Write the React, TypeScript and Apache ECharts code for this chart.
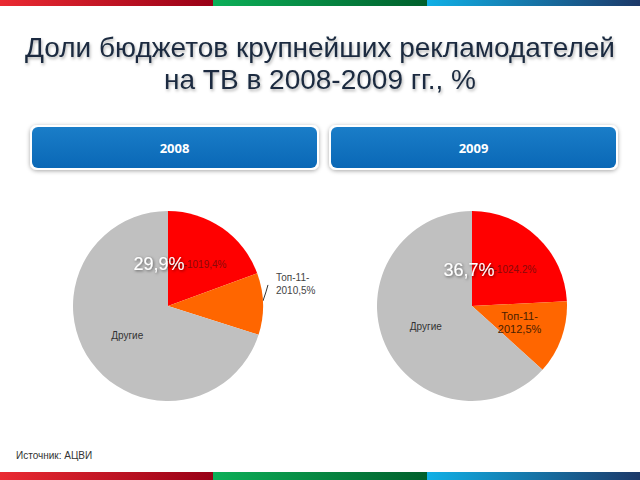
import React, { useEffect, useRef } from "react";
import * as echarts from "echarts";

const years = ["2008", "2009"];
const sliceNames = ["Топ-10", "Топ-11-20", "Другие"];
const top10 = [19.4, 24.2];
const top11to20 = [10.5, 12.5];
const others = [70.1, 63.3];
const top10Labels = ["Топ-1019,4%", "Топ-1024.2%"];
const top11Labels = ["Топ-11-\n2010,5%", "Топ-11-\n2012,5%"];
const totalLabels = ["29,9%", "36,7%"];

const titleLines = ["Доли бюджетов крупнейших рекламодателей", "на ТВ в 2008-2009 гг., %"];
const sourceText = "Источник: АЦВИ";

const sliceColors = ["#ff0000", "#ff6600", "#c0c0c0"];

export default function App() {
  const ref = useRef<HTMLDivElement>(null);
  useEffect(() => {
    if (!ref.current) return;
    const chart = echarts.init(ref.current, null, { renderer: "svg" });
    const centersX = [168, 472];
    const cy = 306;
    const series: any[] = years.map((y, i) => ({
      type: "pie",
      name: y,
      center: [centersX[i], cy],
      radius: [0, 95],
      startAngle: 90,
      clockwise: true,
      silent: true,
      label: { show: true, position: "inside", fontFamily: "Liberation Sans", fontSize: 10 },
      labelLine: { show: false },
      emphasis: { disabled: true },
      labelLayout:
        i === 0
          ? (p: any) => {
              if (p.dataIndex !== 1 || !p.labelLinePoints) return {};
              const s = p.labelLinePoints[0];
              return {
                dy: -20,
                labelLinePoints: [
                  [s[0], s[1] - 3],
                  [s[0] + 3, s[1] - 12],
                  [s[0] + 5, s[1] - 19],
                ],
              };
            }
          : undefined,
      data: [
        {
          name: sliceNames[0],
          value: top10[i],
          itemStyle: { color: sliceColors[0] },
          label: { formatter: top10Labels[i], color: "#8a0a0a" },
        },
        {
          name: sliceNames[1],
          value: top11to20[i],
          itemStyle: { color: sliceColors[1] },
          label:
            i === 0
              ? { position: "outside", formatter: top11Labels[i], color: "#444", align: "center", lineHeight: 13 }
              : { formatter: top11Labels[i], color: "#4a1e00", fontSize: 11, lineHeight: 13, align: "center" },
          labelLine: i === 0 ? { show: true, length: 4, length2: 4, lineStyle: { color: "#333", width: 1 } } : { show: false },
        },
        {
          name: sliceNames[2],
          value: others[i],
          itemStyle: { color: sliceColors[2] },
          label: { formatter: sliceNames[2], color: "#333" },
        },
      ],
    }));

    const barSeg = (x: number, y: number, w: number, h: number, c1: string, c2: string) => ({
      type: "rect",
      shape: { x, y, width: w, height: h },
      style: { fill: new echarts.graphic.LinearGradient(0, 0, 1, 0, [{ offset: 0, color: c1 }, { offset: 1, color: c2 }]) },
    });

    const box = (x: number, label: string) => ({
      type: "group",
      children: [
        {
          type: "rect",
          shape: { x, y: 125, width: 289, height: 45, r: 7 },
          style: { fill: "#ffffff", shadowBlur: 4, shadowColor: "rgba(0,0,0,0.35)", shadowOffsetY: 1 },
        },
        {
          type: "rect",
          shape: { x: x + 2, y: 127, width: 285, height: 41, r: 6 },
          style: {
            fill: new echarts.graphic.LinearGradient(0, 0, 0, 1, [
              { offset: 0, color: "#1a7dc8" },
              { offset: 1, color: "#0a68b6" },
            ]),
          },
        },
        {
          type: "text",
          x: x + 144.5,
          y: 148,
          style: {
            text: label,
            fill: "#ffffff",
            font: "bold 13px 'Open Sans'",
            align: "center",
            verticalAlign: "middle",
          },
        },
      ],
    });

    const totalsX = [159, 469];
    const totalsY = [264, 270];

    const titleStyle = {
      font: "28px 'Liberation Sans'",
      fill: "#1b2b3f",
      align: "center",
      verticalAlign: "middle",
      textShadowColor: "rgba(0,0,0,0.3)",
      textShadowBlur: 3,
      textShadowOffsetX: 1,
      textShadowOffsetY: 2,
    };

    chart.setOption({
      animation: false,
      series,
      graphic: [
        barSeg(0, 0, 213, 6, "#ea2a32", "#980016"),
        barSeg(213, 0, 214, 6, "#0caf58", "#005f2c"),
        barSeg(427, 0, 213, 6, "#10b0e6", "#1c3868"),
        barSeg(0, 472, 213, 8, "#ea2a32", "#980016"),
        barSeg(213, 472, 214, 8, "#0caf58", "#005f2c"),
        barSeg(427, 472, 213, 8, "#10b0e6", "#1c3868"),
        { type: "text", x: 320, y: 47, style: { ...titleStyle, text: titleLines[0] } },
        { type: "text", x: 320, y: 79, style: { ...titleStyle, text: titleLines[1] } },
        box(30, years[0]),
        box(329, years[1]),
        ...totalLabels.map((t, i) => ({
          type: "text",
          x: totalsX[i],
          y: totalsY[i],
          z: 100,
          style: {
            text: t,
            font: "18px 'Liberation Sans'",
            fill: "#ffffff",
            align: "center",
            verticalAlign: "middle",
            textShadowColor: "rgba(0,0,0,0.55)",
            textShadowBlur: 3,
            textShadowOffsetX: 1,
            textShadowOffsetY: 1,
          },
        })),
        {
          type: "text",
          x: 16,
          y: 455,
          style: { text: sourceText, font: "10px 'Liberation Sans'", fill: "#333", verticalAlign: "middle" },
        },
      ],
    });
    return () => chart.dispose();
  }, []);
  return <div ref={ref} style={{ position: "absolute", left: 0, top: 0, width: 640, height: 480 }} />;
}
